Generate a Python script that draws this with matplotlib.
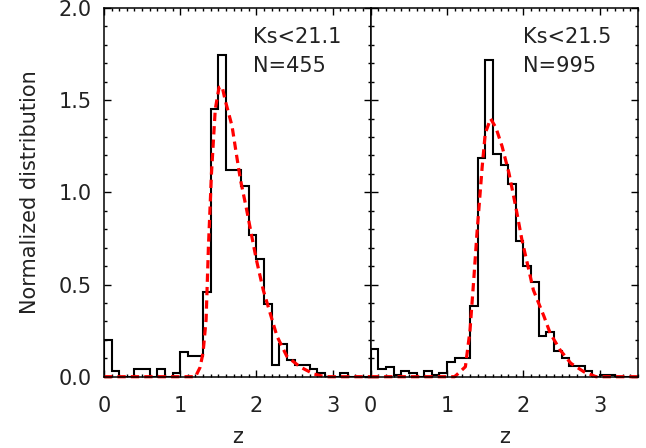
import numpy as np
import matplotlib
matplotlib.use("Agg")
import matplotlib.pyplot as plt
from matplotlib.ticker import MultipleLocator, FixedLocator

# ---- data ----
bin_edges = [round(0.1 * i, 1) for i in range(36)]

left_hist = [0.198, 0.03, 0, 0, 0.044, 0.044, 0, 0.044, 0, 0.022,
             0.132, 0.110, 0.110, 0.462, 1.451, 1.747, 1.121, 1.121, 1.033, 0.769,
             0.637, 0.396, 0.066, 0.176, 0.088, 0.066, 0.066, 0.044, 0.022, 0,
             0, 0.022, 0, 0, 0]
right_hist = [0.151, 0.040, 0.050, 0.010, 0.030, 0.020, 0.0, 0.030, 0.010, 0.020,
              0.080, 0.101, 0.101, 0.382, 1.186, 1.719, 1.206, 1.146, 1.045, 0.734,
              0.603, 0.513, 0.221, 0.241, 0.141, 0.101, 0.060, 0.060, 0.030, 0.0,
              0.010, 0.010, 0, 0, 0]

left_curve_z = [0.0, 1.2, 1.26, 1.30, 1.34, 1.37, 1.41, 1.46, 1.51, 1.55, 1.59, 1.68,
                1.74, 1.79, 1.87, 1.94, 2.00, 2.09, 2.18, 2.27, 2.40, 2.57, 2.75, 2.90, 3.5]
left_curve_v = [0, 0, 0.05, 0.13, 0.31, 0.70, 1.10, 1.45, 1.57, 1.575, 1.50, 1.36,
                1.20, 1.07, 0.91, 0.76, 0.634, 0.47, 0.345, 0.22, 0.11, 0.054, 0.015, 0, 0]
right_curve_z = [0.0, 1.1, 1.24, 1.30, 1.35, 1.39, 1.46, 1.50, 1.57, 1.64, 1.72, 1.81,
                 1.90, 1.98, 2.05, 2.13, 2.27, 2.35, 2.48, 2.62, 2.79, 2.95, 3.5]
right_curve_v = [0, 0, 0.054, 0.25, 0.53, 0.77, 1.14, 1.32, 1.40, 1.35, 1.25, 1.105,
                 0.92, 0.743, 0.616, 0.47, 0.326, 0.236, 0.145, 0.073, 0.027, 0, 0]

panel_labels = [("Ks<21.1", "N=455"), ("Ks<21.5", "N=995")]
x_ticks = [0, 1, 2, 3]
y_ticks = [0.0, 0.5, 1.0, 1.5, 2.0]
y_tick_labels = ["0.0", "0.5", "1.0", "1.5", "2.0"]

# ---- figure ----
plt.rcParams['font.family'] = ['DejaVu Sans']
W, H = 646, 448
fig = plt.figure(figsize=(W / 100, H / 100), dpi=100)

ax_left_px, ax_mid_px, ax_right_px = 104, 370.7, 638
ax_top_px, ax_bot_px = 8, 376.7
bottom = 1 - ax_bot_px / H
height = (ax_bot_px - ax_top_px) / H

axes = []
for (x0, x1) in [(ax_left_px, ax_mid_px), (ax_mid_px, ax_right_px)]:
    axes.append(fig.add_axes([x0 / W, bottom, (x1 - x0) / W, height]))

hists = [left_hist, right_hist]
curves = [(left_curve_z, left_curve_v), (right_curve_z, right_curve_v)]

fs = 15
tc = '#222222'
for i, ax in enumerate(axes):
    ax.stairs(hists[i], bin_edges, color='black', linewidth=1.5, baseline=0)
    cz, cv = curves[i]
    ax.plot(cz, cv, color='red', linewidth=2.3, linestyle=(0, (2.6, 1.6)),
            solid_capstyle='butt', dash_capstyle='butt', clip_on=False)
    ax.set_xlim(0, 3.5)
    ax.set_ylim(0, 2.0)
    ax.xaxis.set_major_locator(FixedLocator(x_ticks))
    ax.xaxis.set_minor_locator(MultipleLocator(0.1))
    ax.yaxis.set_major_locator(FixedLocator(y_ticks))
    ax.yaxis.set_minor_locator(MultipleLocator(0.1))
    ax.tick_params(which='both', direction='in', top=True, right=True,
                   width=1.0, color='black')
    ax.tick_params(which='major', length=5)
    ax.tick_params(which='minor', length=2.5)
    ax.tick_params(axis='x', which='major', labelsize=fs, pad=14, labelcolor=tc)
    ax.tick_params(axis='y', which='major', labelsize=fs, pad=9, labelcolor=tc)
    ax.set_xticklabels([str(t) for t in x_ticks])
    for sp in ax.spines.values():
        sp.set_linewidth(1.1)
    ax.set_xlabel("z", fontsize=fs, color=tc, labelpad=8)
    t1, t2 = panel_labels[i]
    xt = 0.559 if i == 0 else 0.57
    ax.text(xt, 0.904, t1, transform=ax.transAxes, fontsize=fs, color=tc,
            ha='left', va='baseline')
    ax.text(xt, 0.827, t2, transform=ax.transAxes, fontsize=fs, color=tc,
            ha='left', va='baseline')

axes[0].set_yticklabels(y_tick_labels)
axes[1].set_yticklabels([])
axes[0].set_ylabel("Normalized distribution", fontsize=fs, color=tc, labelpad=13)

fig.savefig("out.png", dpi=100)
